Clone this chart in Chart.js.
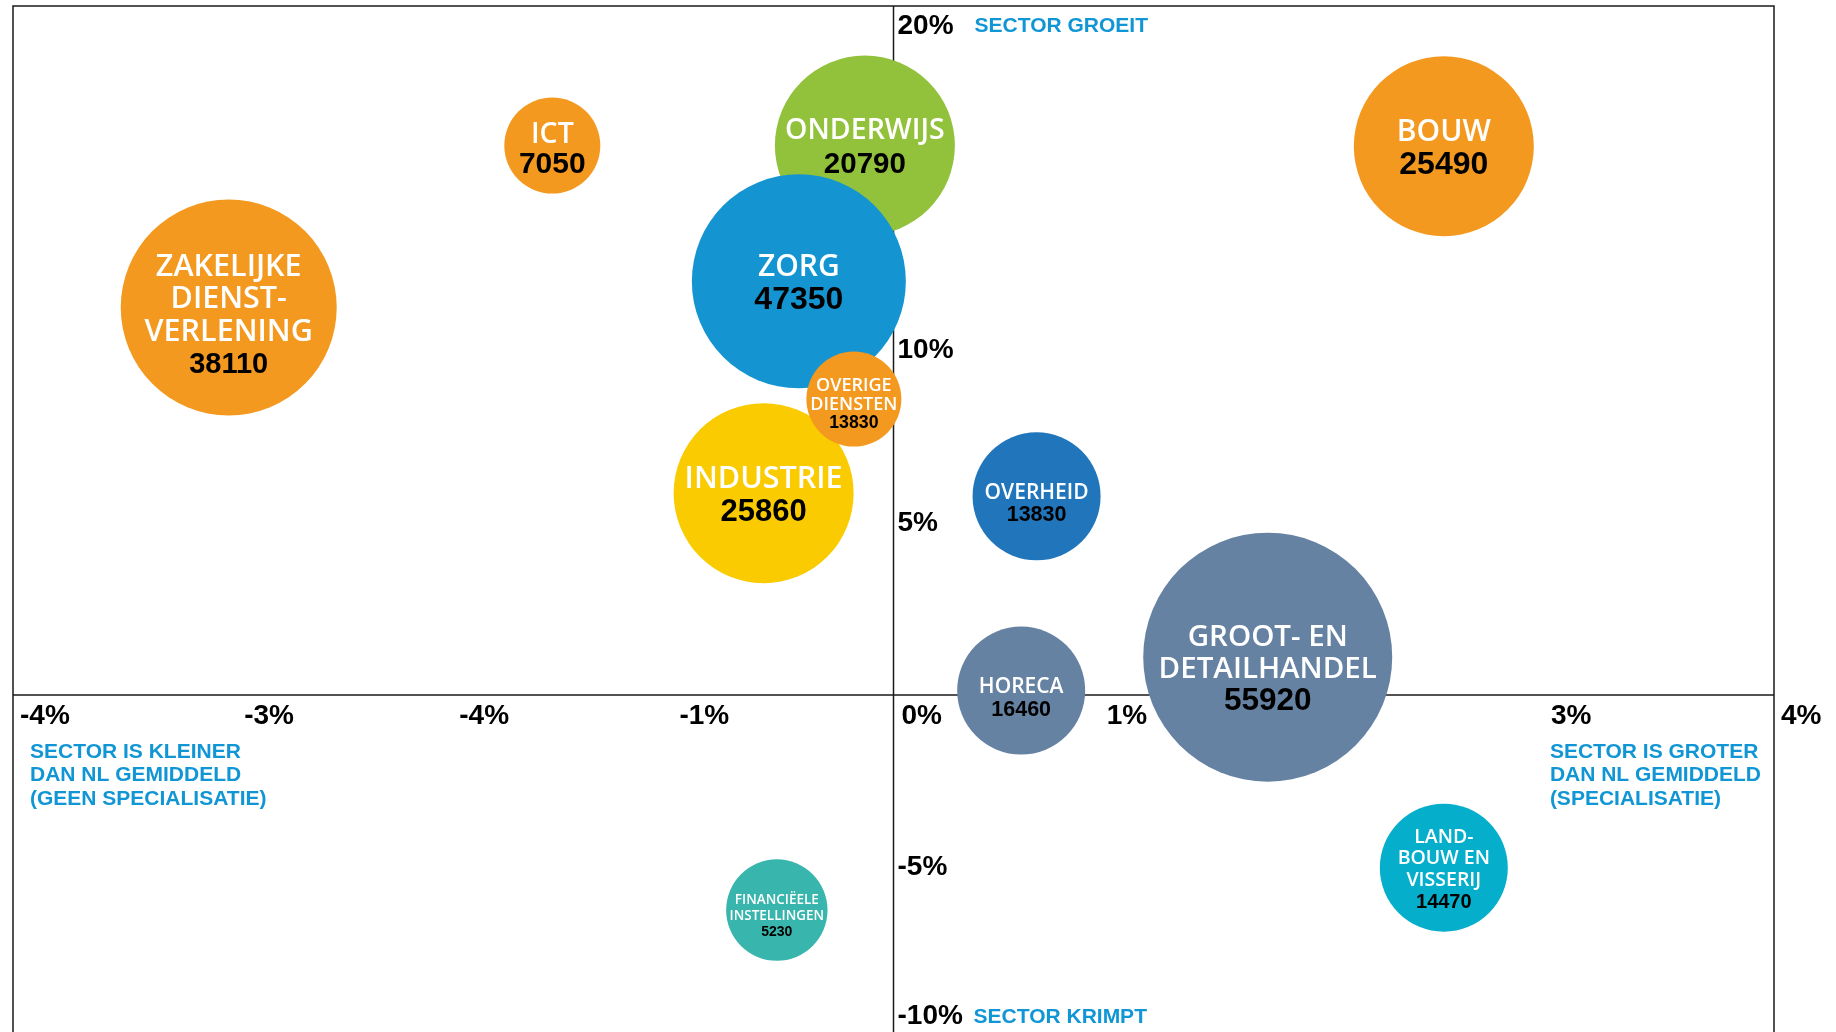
<!DOCTYPE html>
<html>
<head>
<meta charset="utf-8">
<script src="https://cdn.jsdelivr.net/npm/chart.js@4.4.1/dist/chart.umd.min.js"></script>
<style>
  html, body { margin: 0; padding: 0; background: #ffffff; }
  #wrap { width: 1836px; height: 1032px; position: relative; }
</style>
</head>
<body>
<div id="wrap"><canvas id="c"></canvas></div>
<script>
// ---------- DATA ----------
const sectors = [
  'ICT',
  'ZAKELIJKE\nDIENST-\nVERLENING',
  'ONDERWIJS',
  'BOUW',
  'ZORG',
  'INDUSTRIE',
  'OVERIGE\nDIENSTEN',
  'OVERHEID',
  'GROOT- EN\nDETAILHANDEL',
  'HORECA',
  'LAND-\nBOUW EN\nVISSERIJ',
  'FINANCIËELE\nINSTELLINGEN'
];
const jobs = [7050, 38110, 20790, 25490, 47350, 25860, 13830, 13830, 55920, 16460, 14470, 5230];
// x: specialisation vs. NL average (%), y: sector growth (%)
const specialisation = [-1.55, -3.02, -0.13, 2.50, -0.43, -0.59, -0.18, 0.65, 1.70, 0.58, 2.50, -0.53];
const growth = [15.95, 11.25, 15.95, 15.93, 12.01, 5.86, 8.59, 5.77, 1.10, 0.13, -5.01, -6.24];
const bubbleRadius = [48, 108, 90, 90, 107, 90, 47.5, 64, 124.5, 64, 64, 50.7];

const xTickValues = [-4, -3, -2, -1, 0, 1, 3, 4];
const xTickLabels = ['-4%', '-3%', '-4%', '-1%', '0%', '1%', '3%', '4%'];
const yTickValues = [20, 10, 5, -5, -10];
const yTickLabels = ['20%', '10%', '5%', '-5%', '-10%'];

const noteGrow = 'SECTOR GROEIT';
const noteShrink = 'SECTOR KRIMPT';
const noteSmaller = ['SECTOR IS KLEINER', 'DAN NL GEMIDDELD', '(GEEN SPECIALISATIE)'];
const noteBigger = ['SECTOR IS GROTER', 'DAN NL GEMIDDELD', '(SPECIALISATIE)'];

// ---------- STYLE ----------
const ORANGE = '#f4991f';
const bubbleColors = [ORANGE, ORANGE, '#92c13c', ORANGE, '#1594d2', '#f9cb00', ORANGE, '#2175bb', '#6682a2', '#6682a2', '#05afcc', '#38b6ad'];
const nameSize  = [28.5, 30.5, 28.5, 30, 30, 30.5, 18, 21, 29.5, 21, 19.5, 13.5];
const valueSize = [30, 29, 29.5, 32, 32, 31, 17.7, 21.5, 31.5, 21.5, 20, 14];
const lineStep  = [29, 32.5, 33, 32, 32.5, 33, 18.5, 22, 32, 22.5, 21.5, 16];
const textShift = [2, 6, 0, 0, 0.5, 0, 4, 6, 10, 6, 0.5, 5];
const xLabelNudge = [7, 11, 6, 6, 8, -7, -3, 7];
const BLUE = '#1196d5';
const NAME_FONT = '"Open Sans", "Noto Sans", sans-serif';
const NUM_FONT = '"Liberation Sans", Arial, sans-serif';

const quadrantPlugin = {
  id: 'quadrant',
  beforeDatasetsDraw(chart) {
    const { ctx, chartArea: a, scales: { x, y } } = chart;
    const x0 = x.getPixelForValue(0), y0 = y.getPixelForValue(0);
    ctx.save();
    ctx.strokeStyle = '#1a1a1a';
    ctx.lineWidth = 1.5;
    ctx.beginPath();
    ctx.moveTo(a.left, a.bottom + 2); ctx.lineTo(a.left, a.top);
    ctx.lineTo(a.right, a.top); ctx.lineTo(a.right, a.bottom + 2);
    ctx.stroke();
    ctx.beginPath();
    ctx.moveTo(x0, a.top); ctx.lineTo(x0, a.bottom + 2);
    ctx.moveTo(a.left, y0); ctx.lineTo(a.right, y0);
    ctx.stroke();

    // tick labels
    ctx.fillStyle = '#000';
    ctx.font = 'bold 28px ' + NUM_FONT;
    ctx.textAlign = 'left';
    ctx.textBaseline = 'middle';
    xTickValues.forEach((v, i) => {
      ctx.fillText(xTickLabels[i], x.getPixelForValue(v) + xLabelNudge[i], y0 + 21);
    });
    yTickValues.forEach((v, i) => {
      let py = y.getPixelForValue(v);
      py = Math.max(py, a.top + 20);
      py = Math.min(py, a.bottom - 16);
      ctx.fillText(yTickLabels[i], x0 + 4, py);
    });

    // quadrant notes
    ctx.fillStyle = BLUE;
    ctx.font = 'bold 21px ' + NUM_FONT;
    ctx.fillText(noteGrow, x0 + 81, a.top + 20);
    ctx.fillText(noteShrink, x0 + 80, a.bottom - 15);
    noteSmaller.forEach((t, i) => ctx.fillText(t, a.left + 17, y0 + 57 + i * 23.5));
    const xr = x.getPixelForValue(3) - 4;
    noteBigger.forEach((t, i) => ctx.fillText(t, xr, y0 + 57 + i * 23.5));
    ctx.restore();
  },
  afterDatasetsDraw(chart) {
    const { ctx } = chart;
    const meta = chart.getDatasetMeta(0);
    ctx.save();
    ctx.textAlign = 'center';
    ctx.textBaseline = 'alphabetic';
    meta.data.forEach((el, i) => {
      const items = sectors[i].split('\n').map(t => ({ t, size: nameSize[i], font: '600 ' + nameSize[i] + 'px ' + NAME_FONT, color: '#ffffff', cap: 0.714 }));
      items.push({ t: String(jobs[i]), size: valueSize[i], font: 'bold ' + valueSize[i] + 'px ' + NUM_FONT, color: '#000000', cap: 0.716 });
      const n = items.length;
      const firstCenter = el.y + textShift[i] - (n - 1) * lineStep[i] / 2;
      items.forEach((it, k) => {
        const cy = firstCenter + k * lineStep[i];
        ctx.font = it.font;
        ctx.fillStyle = it.color;
        ctx.fillText(it.t, el.x, cy + it.size * it.cap / 2);
      });
    });
    ctx.restore();
  }
};

const points = sectors.map((s, i) => ({ x: specialisation[i], y: growth[i], r: bubbleRadius[i] }));

new Chart(document.getElementById('c'), {
  type: 'bubble',
  data: {
    datasets: [{
      label: 'Sectoren',
      data: points,
      backgroundColor: bubbleColors,
      borderColor: bubbleColors,
      borderWidth: 0,
      hoverRadius: 0
    }]
  },
  options: {
    responsive: true,
    maintainAspectRatio: false,
    animation: false,
    events: [],
    layout: { autoPadding: false, padding: { left: 13, right: 62, top: 6, bottom: 0 } },
    plugins: { legend: { display: false }, tooltip: { enabled: false } },
    scales: {
      x: { type: 'linear', min: -4, max: 4, display: false },
      y: { type: 'linear', min: -9.78, max: 20, display: false }
    },
    clip: false
  },
  plugins: [quadrantPlugin]
});
</script>
</body>
</html>
